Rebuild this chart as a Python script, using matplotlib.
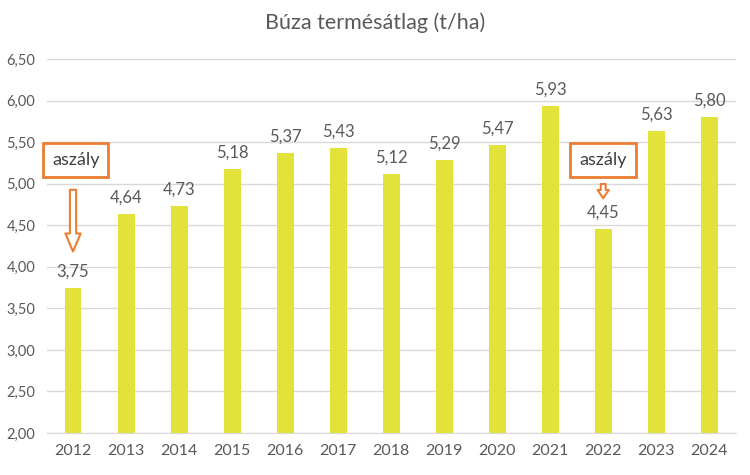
import numpy as np
import matplotlib.pyplot as plt

plt.rcParams['font.family'] = ['Lato', 'DejaVu Sans']

years = ['2012', '2013', '2014', '2015', '2016', '2017', '2018',
         '2019', '2020', '2021', '2022', '2023', '2024']
yields = [3.75, 4.64, 4.73, 5.18, 5.37, 5.43, 5.12,
          5.29, 5.47, 5.93, 4.45, 5.63, 5.80]

bar_color = '#E2E23A'
orange = '#ED7D31'
text_color = '#595959'

fig = plt.figure(figsize=(7.5, 4.75), dpi=100)
ax = fig.add_axes([0.062, 0.0884, 0.919, 0.7874])

x = np.arange(len(years))
ax.bar(x, yields, width=0.32, color=bar_color, zorder=2)

for xi, v in zip(x, yields):
    ax.annotate(f'{v:.2f}'.replace('.', ','), (xi, v), xytext=(0, 6),
                textcoords='offset points', ha='center', va='bottom',
                fontsize=12, color=text_color)

ax.set_xlim(-0.5, len(years) - 0.5)
ax.set_ylim(2.0, 6.5)
yt = np.arange(2.0, 6.51, 0.5)
ax.set_yticks(yt)
ax.set_yticklabels([f'{t:.2f}'.replace('.', ',') for t in yt])
ax.set_xticks(x)
ax.set_xticklabels(years)
ax.tick_params(axis='both', length=0, labelsize=10.5, colors=text_color)
ax.tick_params(axis='x', labelsize=11.5, pad=8)
ax.tick_params(axis='y', pad=8)
ax.grid(axis='y', color='#D9D9D9', linewidth=1, zorder=0)
for s in ['top', 'right', 'left']:
    ax.spines[s].set_visible(False)
ax.spines['bottom'].set_color('#D9D9D9')

fig.text(0.5, 0.953, 'Búza termésátlag (t/ha)', ha='center', va='center',
         fontsize=15.5, color=text_color)

# "aszály" callouts
box = dict(boxstyle='square,pad=0.5', fc='white', ec=orange, lw=2)
ax.text(0.05, 5.28, 'aszály', ha='center', va='center', fontsize=13,
        color='#404040', bbox=box, zorder=5)
ax.text(10, 5.28, 'aszály', ha='center', va='center', fontsize=13,
        color='#404040', bbox=box, zorder=5)

ax.annotate('', xy=(0, 4.15), xytext=(0, 4.96),
            arrowprops=dict(arrowstyle='simple,head_width=1.1,head_length=1.3,tail_width=0.45',
                            fc='white', ec=orange, lw=1.5), zorder=5)
ax.annotate('', xy=(10, 4.79), xytext=(10, 5.03),
            arrowprops=dict(arrowstyle='simple,head_width=0.8,head_length=0.6,tail_width=0.35',
                            fc='white', ec=orange, lw=1.5), zorder=5)

fig.savefig('out.png', dpi=100, facecolor='white')
